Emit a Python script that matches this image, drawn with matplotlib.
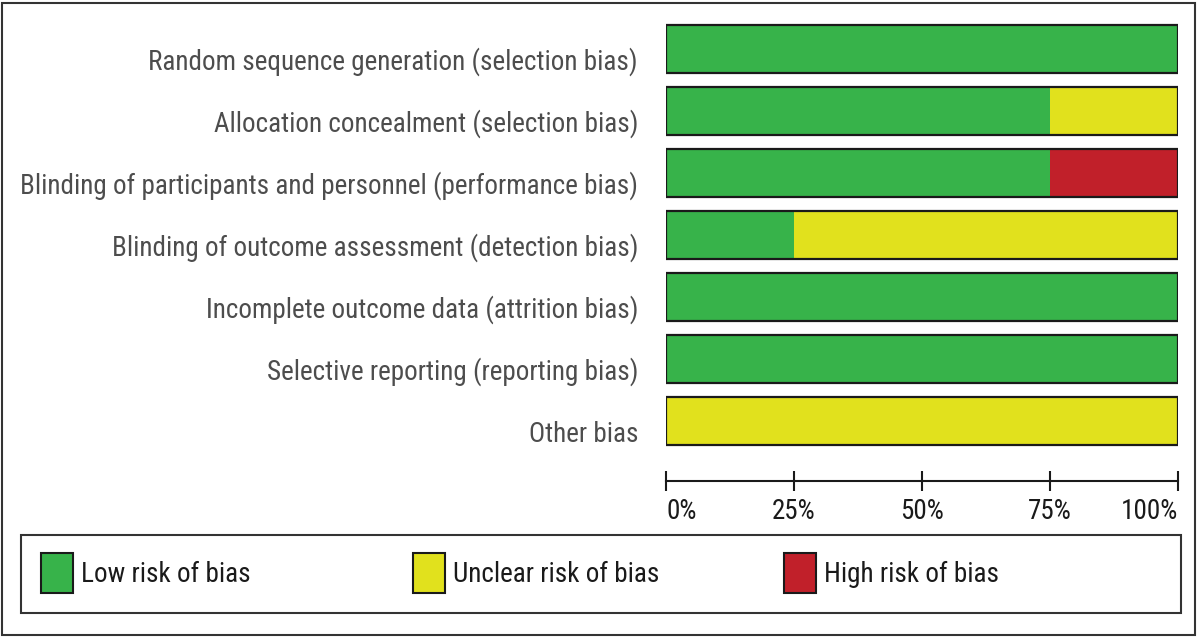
import matplotlib
matplotlib.use("Agg")
import matplotlib.pyplot as plt
import numpy as np
from matplotlib import font_manager
from matplotlib.patches import Rectangle
from matplotlib.transforms import blended_transform_factory

# prefer a narrow sans, like the Arial Narrow of the original
names = sorted({f.name for f in font_manager.fontManager.ttflist})
family = 'Liberation Sans'
for cand in ['Liberation Sans Narrow', 'Arial Narrow', 'Roboto Condensed',
             'Open Sans Condensed', 'Noto Sans Condensed']:
    if cand in names:
        family = cand
        break
else:
    narrow = [n for n in names if 'Narrow' in n or 'Condensed' in n]
    if narrow:
        family = narrow[0]
plt.rcParams['font.family'] = [family, 'DejaVu Sans']

domains = [
    "Random sequence generation (selection bias)",
    "Allocation concealment (selection bias)",
    "Blinding of participants and personnel (performance bias)",
    "Blinding of outcome assessment (detection bias)",
    "Incomplete outcome data (attrition bias)",
    "Selective reporting (reporting bias)",
    "Other bias",
]
low = np.array([100, 75, 75, 25, 100, 100, 0])
unclear = np.array([0, 25, 0, 75, 0, 0, 100])
high = np.array([0, 0, 25, 0, 0, 0, 0])

ticks = [0, 25, 50, 75, 100]
tick_labels = ["0%", "25%", "50%", "75%", "100%"]

series = [("Low risk of bias", low, "#37b34a"),
          ("Unclear risk of bias", unclear, "#e1e11d"),
          ("High risk of bias", high, "#c1202a")]

W, H = 1200, 637
fig = plt.figure(figsize=(12, 6.37), dpi=100)
ax = fig.add_axes([666 / W, 1 - 481 / H, 512 / W, 463 / H])

# font size: fit the longest label into the space left of the bars
renderer = fig.canvas.get_renderer()
probe = fig.text(0, 0, max(domains, key=len), fontsize=19.5)
wpx = probe.get_window_extent(renderer).width
probe.remove()
fs = min(19.5, 19.5 * 618 / wpx)

y = np.arange(len(domains))
bar_h = 48 / 62
left = np.zeros(len(domains))
for name, vals, col in series:
    ax.barh(y, vals, left=left, height=bar_h, color=col, edgecolor="none")
    left += vals
ax.barh(y, left, height=bar_h, fill=False, edgecolor="#1a1a1a", linewidth=1.6)

ax.set_xlim(0, 100)
ax.set_ylim(6.968, -0.5)
for s in ["top", "left", "right"]:
    ax.spines[s].set_visible(False)
ax.spines["bottom"].set_linewidth(1.5)
ax.spines["bottom"].set_color("#1a1a1a")
ax.set_yticks([])
ax.set_xticks(ticks)
ax.set_xticklabels(tick_labels, fontsize=fs, color="#1a1a1a")
ax.tick_params(axis="x", direction="inout", length=15, width=1.5,
               color="#1a1a1a", pad=5)
lbls = ax.get_xticklabels()
lbls[0].set_ha("left")
lbls[-1].set_ha("right")

tr = blended_transform_factory(ax.transAxes, ax.transData)
for i, d in enumerate(domains):
    ax.text(-28 / 512, i + 0.21, d, transform=tr, ha="right", va="center",
            fontsize=fs, color="#4d4d4d")

# outer frame
fig.add_artist(Rectangle((2 / W, 2 / H), 1193 / W, 632 / H, transform=fig.transFigure,
                         fill=False, edgecolor="#333333", linewidth=1.5))
# legend box
fig.add_artist(Rectangle((21 / W, 1 - 613 / H), 1160 / W, 78 / H, transform=fig.transFigure,
                         fill=False, edgecolor="#333333", linewidth=1.5))
patch_x = [41, 413, 784]
for (name, vals, col), px in zip(series, patch_x):
    fig.add_artist(Rectangle((px / W, 1 - 593 / H), 32 / W, 40 / H,
                             transform=fig.transFigure, facecolor=col,
                             edgecolor="#1a1a1a", linewidth=1.5))
    fig.text((px + 40) / W, 1 - 574 / H, name, ha="left", va="center",
             fontsize=fs, color="#1a1a1a")

fig.savefig("out.png", dpi=100)
